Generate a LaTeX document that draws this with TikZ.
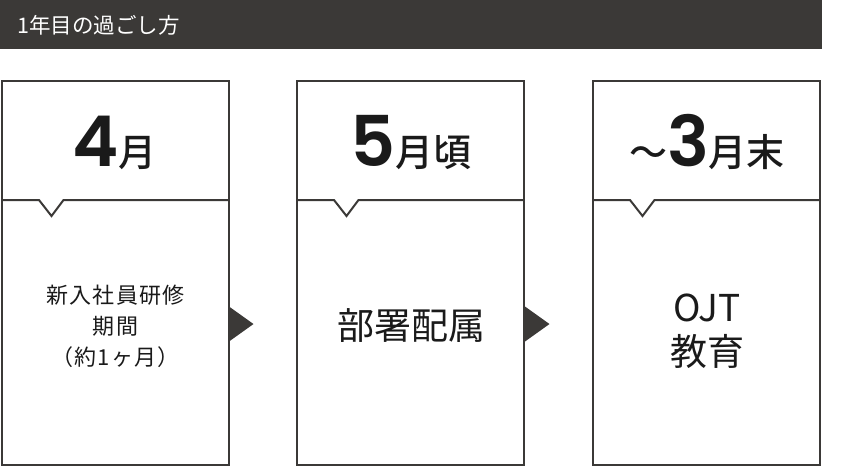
\documentclass[tikz,border=0pt]{standalone}
\usepackage{fontspec}
\newfontfamily\jp{Noto Sans CJK JP}
\newfontfamily\jpsp{Noto Sans CJK JP}[LetterSpace=6]
\IfFontExistsTF{Noto Sans CJK JP Medium}{\newfontfamily\jpm{Noto Sans CJK JP Medium}}{\newfontfamily\jpm{Noto Sans CJK JP}}
\IfFontExistsTF{Poppins SemiBold}{\newfontfamily\numfont{Poppins SemiBold}}{\newfontfamily\numfont{Poppins}[FakeBold=1.5]}
\definecolor{dark}{HTML}{3B3937}
\definecolor{ink}{HTML}{1A1A1A}
\begin{document}
\begin{tikzpicture}[x=1pt,y=-1pt,
  boxline/.style={draw=dark,line width=2pt},
  titletext/.style={anchor=base,inner sep=0pt,text=ink},
  bodytext/.style={align=center,inner sep=0pt,text=ink},
  headtext/.style={anchor=west,inner sep=0pt,text=white,font=\jp\fontsize{21.5}{24}\selectfont},
  flowarrow/.style={fill=dark}]
\useasboundingbox (0,0) rectangle (853,467);
% header bar
\fill[dark] (0,0) rectangle (822,48.5);
\node[headtext] (head) at (17,25.5) {1年目の過ごし方};
% boxes
\foreach \L/\n in {2/a,297/b,593/c}{
  \draw[boxline] (\L,81) rectangle (\L+227,465);
  \draw[boxline,line join=miter] (\L,200) -- (\L+37,200) -- (\L+49.5,216) -- (\L+61.5,200) -- (\L+227,200);
}
% titles
\node[titletext] (t1) at (114.5,166.5) {{\numfont\fontsize{70}{74}\selectfont 4}{\jpm\fontsize{38}{40}\selectfont 月}};
\node[titletext] (t2) at (411,166.5) {{\numfont\fontsize{70}{74}\selectfont 5}{\jpm\fontsize{38}{40}\selectfont 月頃}};
\node[titletext] (t3) at (707,166.5) {{\jpm\fontsize{38}{40}\selectfont ～}{\numfont\fontsize{70}{74}\selectfont 3}{\jpm\fontsize{38}{40}\selectfont 月末}};
% bodies
\node[bodytext,font=\jpsp\fontsize{22}{31}\selectfont] (b1) at (115.5,326) {新入社員研修\\期間\\（約1ヶ月）};
\node[bodytext,font=\jp\fontsize{37}{44}\selectfont] (b2) at (411,325.5) {部署配属};
\node[bodytext,font=\jp\fontsize{37}{44}\selectfont] (b3) at (707,331) {OJT\\教育};
% arrows between boxes
\coordinate (a1) at (229,306.5);
\coordinate (a2) at (525,306.5);
\fill[flowarrow] (a1) -- ++(24.5,17.5) -- ++(-24.5,17.5) -- cycle;
\fill[flowarrow] (a2) -- ++(24.5,17.5) -- ++(-24.5,17.5) -- cycle;
\end{tikzpicture}
\end{document}
